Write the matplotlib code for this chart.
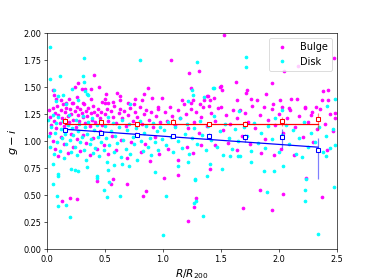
import numpy as np
import matplotlib
matplotlib.use('Agg')
import matplotlib.pyplot as plt

# bulge galaxies (R/R200, g-i)
bulge_x = [1.53, 2.48, 1.07, 2.17, 1.23, 1.31, 0.41, 2.05, 1.94, 1.63, 1.73, 1.72, 1.49, 1.51,
           0.27, 0.24, 0.38, 0.45, 0.33, 0.30, 0.05, 0.06, 0.08, 0.12, 0.19, 0.26, 0.87, 0.84,
           0.63, 0.50, 0.50, 0.76, 0.82, 0.91, 0.99, 1.17, 1.26, 1.36, 1.39, 1.44, 1.67, 1.64,
           1.81, 2.01, 2.03, 2.11, 2.23, 2.37, 2.43, 2.38, 2.43, 2.49, 2.49, 2.28,
           0.51, 0.61, 0.63, 0.31, 0.38, 0.17, 0.23, 0.48, 0.53, 0.57, 0.70, 0.75, 0.96, 1.24,
           1.32, 1.38, 1.41, 1.40, 1.50, 1.76, 1.87, 1.95, 2.09, 2.16, 2.23, 2.32, 1.24, 1.50, 1.89,
           0.57, 0.55, 0.69, 0.43, 1.01, 1.13, 0.86, 0.83, 0.13, 0.20, 0.26, 1.29, 1.27, 1.22,
           1.69, 1.84, 2.04, 1.94, 2.37, 2.24,
           0.02, 0.03, 0.04, 0.05, 0.06, 0.07, 0.08, 0.09, 0.10, 0.11, 0.12, 0.13, 0.14, 0.15,
           0.16, 0.17, 0.18, 0.19, 0.20, 0.21, 0.22, 0.23, 0.24, 0.25, 0.26, 0.27, 0.28, 0.29,
           0.30, 0.31, 0.32, 0.33, 0.34, 0.35, 0.36, 0.37, 0.38, 0.39, 0.40, 0.41, 0.42, 0.43,
           0.44, 0.46, 0.47, 0.48, 0.50, 0.52, 0.53, 0.55, 0.57, 0.58, 0.60, 0.62, 0.63, 0.65,
           0.67, 0.68, 0.70, 0.72, 0.74, 0.76, 0.78, 0.80, 0.82, 0.84, 0.86, 0.88, 0.90, 0.92,
           0.94, 0.96, 0.98,
           0.03, 0.05, 0.07, 0.10, 0.12, 0.15, 0.18, 0.21, 0.23, 0.26, 0.29, 0.31, 0.34, 0.37,
           0.40, 0.43, 0.46, 0.49, 0.53, 0.56, 0.60, 0.64, 0.69, 0.73, 0.77, 0.81, 0.85, 0.89,
           0.93, 0.97,
           1.02, 1.04, 1.06, 1.08, 1.11, 1.13, 1.15, 1.18, 1.20, 1.22, 1.24, 1.27, 1.29, 1.31,
           1.33, 1.35, 1.38, 1.42, 1.45, 1.48, 1.52, 1.55, 1.58, 1.61, 1.64, 1.68, 1.71, 1.74,
           1.77, 1.80, 1.84, 1.88, 1.91, 1.94, 1.97, 2.00, 2.04, 2.07, 2.10, 2.14, 2.18, 2.21,
           2.25, 2.29, 2.33, 2.36, 2.40, 2.44, 2.47,
           1.05, 1.13, 1.21, 1.26, 1.33, 1.41, 1.45, 1.56, 1.64, 1.75, 1.85, 1.96, 2.02, 2.13,
           2.30, 2.42]
bulge_y = [1.98, 1.77, 1.75, 1.70, 1.63, 1.65, 1.61, 1.65, 1.54, 1.55, 1.47, 1.45, 1.50, 1.47,
           1.54, 1.50, 1.48, 1.50, 1.48, 1.48, 1.47, 1.43, 1.39, 1.38, 1.39, 1.41, 1.49, 1.44,
           1.38, 1.39, 1.35, 1.39, 1.38, 1.40, 1.40, 1.38, 1.38, 1.38, 1.42, 1.40, 1.29, 1.38,
           1.38, 1.38, 1.32, 1.39, 1.31, 1.38, 1.38, 1.46, 1.47, 1.26, 1.21, 1.24,
           1.44, 1.45, 1.42, 1.35, 1.39, 1.35, 1.35, 1.36, 1.35, 1.36, 1.35, 1.34, 1.32, 1.35,
           1.34, 1.42, 1.38, 1.33, 1.32, 1.39, 1.32, 1.34, 1.31, 1.39, 1.32, 1.32, 1.49, 1.51, 1.44,
           0.65, 0.60, 0.60, 0.63, 0.66, 0.69, 0.54, 0.49, 0.45, 0.47, 0.46, 0.47, 0.39, 0.26,
           0.38, 0.55, 0.51, 0.36, 0.48, 0.66,
           1.29, 1.22, 1.15, 1.31, 1.19, 1.26, 1.12, 1.33, 1.24, 1.17, 1.29, 1.21, 1.34, 1.14,
           1.27, 1.31, 1.23, 1.18, 1.30, 1.25, 1.35, 1.20, 1.28, 1.13, 1.32, 1.24, 1.19, 1.30,
           1.26, 1.22, 1.34, 1.17, 1.28, 1.23, 1.31, 1.14, 1.26, 1.20, 1.33, 1.27, 1.18, 1.24,
           1.30, 1.21, 1.27, 1.15, 1.25, 1.30, 1.19, 1.28, 1.22, 1.33, 1.17, 1.26, 1.30, 1.21,
           1.28, 1.14, 1.24, 1.31, 1.19, 1.27, 1.22, 1.32, 1.16, 1.25, 1.29, 1.20, 1.27, 1.13,
           1.23, 1.30, 1.18,
           1.08, 1.00, 0.93, 0.86, 1.04, 0.97, 0.89, 1.07, 0.95, 1.02, 0.91, 1.06, 0.98, 0.87,
           1.03, 0.93, 1.09, 0.96, 0.88, 1.05, 0.92, 1.01, 0.84, 0.99, 1.07, 0.90, 0.97, 0.82,
           1.04, 0.88,
           1.27, 1.19, 1.32, 1.23, 1.15, 1.29, 1.21, 1.34, 1.25, 1.12, 1.30, 1.18, 1.27, 1.08,
           1.22, 1.32, 1.14, 1.26, 1.19, 1.31, 1.10, 1.24, 1.16, 1.29, 1.21, 1.05, 1.26, 1.18,
           1.33, 1.12, 1.24, 1.02, 1.20, 1.30, 1.15, 1.25, 1.08, 1.21, 1.29, 1.13, 1.23, 1.04,
           1.18, 1.27, 1.11, 1.30, 1.16, 1.25, 1.09,
           0.93, 0.83, 0.95, 0.89, 0.96, 0.74, 0.96, 0.98, 0.92, 0.97, 0.89, 0.87, 0.93, 0.87,
           0.99, 0.92]

# disk galaxies (R/R200, g-i)
disk_x = [0.03, 0.03, 0.11, 0.06, 0.08, 0.32, 0.80, 1.72, 1.72, 0.22, 0.32, 1.44, 1.36, 1.25,
          2.49, 0.10, 0.14, 0.27, 0.36, 0.72, 1.22, 1.66, 2.03, 0.17, 2.42, 1.30, 0.31, 0.33,
          0.35, 1.26, 1.43,
          0.05, 0.10, 0.09, 0.10, 0.17, 0.20, 0.43, 0.49, 0.52, 0.54, 0.63, 1.00, 1.03, 1.27,
          1.29, 1.35, 1.28, 1.38, 1.90, 2.23, 2.23, 2.24, 2.34, 2.48,
          0.01, 0.02, 0.03, 0.04, 0.05, 0.06, 0.07, 0.08, 0.09, 0.10, 0.11, 0.12, 0.13, 0.14,
          0.15, 0.16, 0.17, 0.18, 0.19, 0.20, 0.21, 0.22, 0.23, 0.24, 0.25, 0.26, 0.27, 0.28,
          0.29, 0.30, 0.31, 0.32, 0.33, 0.34, 0.35, 0.36, 0.37, 0.38, 0.39, 0.40, 0.41, 0.42,
          0.43, 0.44, 0.45, 0.46, 0.47, 0.48, 0.49, 0.50, 0.51, 0.52, 0.53, 0.54, 0.55, 0.57,
          0.58, 0.59, 0.61, 0.62, 0.64, 0.65, 0.66, 0.68, 0.69, 0.71, 0.72, 0.74, 0.75, 0.77,
          0.78, 0.80, 0.81, 0.83, 0.84, 0.86, 0.87, 0.89, 0.90, 0.92, 0.93, 0.95, 0.96, 0.98,
          0.99,
          0.05, 0.10, 0.21, 0.24, 0.27, 0.43, 0.53, 0.65, 0.71, 0.93, 0.35, 0.58,
          1.01, 1.03, 1.05, 1.07, 1.09, 1.11, 1.13, 1.15, 1.17, 1.19, 1.21, 1.23, 1.25, 1.27,
          1.30, 1.32, 1.34, 1.37, 1.39, 1.42, 1.44, 1.47, 1.49, 1.52, 1.54, 1.57, 1.60, 1.62,
          1.65, 1.67, 1.70, 1.73, 1.76, 1.79, 1.82, 1.85, 1.88, 1.91, 1.94, 1.97, 2.00, 2.03,
          2.06, 2.09, 2.12, 2.15, 2.18, 2.22, 2.25, 2.28, 2.31, 2.35, 2.38, 2.41, 2.44, 2.47,
          1.22, 1.28, 1.41, 1.51, 1.65, 1.76, 1.87, 1.96, 2.04, 2.41, 2.49, 1.58, 2.20, 1.13]
disk_y = [1.87, 1.58, 1.60, 1.47, 1.37, 1.77, 1.75, 1.78, 1.69, 1.48, 1.55, 1.49, 1.41, 1.47,
          1.39, 1.42, 1.43, 1.38, 1.43, 1.34, 1.37, 1.28, 1.29, 1.34, 1.33, 1.73, 1.60, 1.46,
          1.44, 1.43, 1.49,
          0.60, 0.68, 0.49, 0.40, 0.41, 0.30, 0.68, 0.55, 0.48, 0.62, 0.49, 0.13, 0.49, 0.43,
          0.45, 0.31, 0.64, 0.68, 0.53, 0.55, 0.45, 0.65, 0.14, 0.58,
          1.20, 1.05, 0.95, 1.13, 1.24, 0.88, 1.08, 1.17, 0.99, 1.22, 0.91, 1.11, 1.03, 1.19,
          0.84, 1.07, 0.97, 1.15, 1.24, 1.01, 0.90, 1.12, 1.06, 0.95, 1.20, 0.87, 1.09, 1.16,
          0.99, 1.04, 1.23, 0.92, 1.13, 0.83, 1.07, 1.18, 0.97, 1.02, 1.21, 0.89, 1.10, 0.94,
          1.15, 1.04, 0.86, 1.19, 0.99, 1.08, 0.92, 1.14, 1.03, 0.81, 1.22, 0.96, 1.09, 1.17,
          0.90, 1.05, 0.98, 1.13, 0.85, 1.20, 1.01, 0.93, 1.10, 1.16, 0.88, 1.04, 0.97, 1.12,
          0.83, 1.19, 1.00, 0.91, 1.08, 1.14, 0.95, 1.03, 0.87, 1.17, 0.99, 1.09, 0.92, 1.13,
          1.02,
          0.79, 0.70, 0.74, 0.73, 0.72, 0.66, 0.73, 0.79, 0.77, 0.71, 0.76, 0.78,
          1.10, 0.96, 1.18, 1.04, 0.90, 1.13, 1.00, 1.21, 0.94, 1.07, 1.16, 0.88, 1.03, 1.12,
          0.97, 1.19, 1.06, 0.92, 1.14, 1.01, 1.23, 0.95, 1.09, 0.87, 1.16, 1.03, 0.93, 1.11,
          1.00, 0.86, 1.13, 1.05, 0.91, 1.17, 0.98, 1.08, 0.94, 1.14, 1.02, 1.21, 0.90, 1.06,
          1.15, 0.97, 1.10, 0.88, 1.03, 1.18, 0.95, 1.08, 0.99, 1.13, 0.90, 1.05, 0.94, 1.11,
          0.81, 0.65, 0.79, 0.74, 0.86, 0.81, 0.72, 0.72, 0.77, 0.86, 0.96, 0.86, 0.85, 0.77]

# binned medians
bin_x = [0.16, 0.47, 0.78, 1.09, 1.40, 1.71, 2.03, 2.34]
bulge_med = [1.19, 1.175, 1.155, 1.18, 1.16, 1.16, 1.19, 1.205]
bulge_err_lo = [0.03, 0.02, 0.02, 0.03, 0.02, 0.025, 0.05, 0.10]
bulge_err_hi = [0.03, 0.02, 0.02, 0.03, 0.02, 0.025, 0.03, 0.055]
disk_med = [1.105, 1.075, 1.055, 1.05, 1.05, 1.04, 1.04, 0.92]
disk_err_lo = [0.02, 0.02, 0.02, 0.02, 0.03, 0.05, 0.10, 0.27]
disk_err_hi = [0.02, 0.02, 0.02, 0.02, 0.03, 0.03, 0.07, 0.11]

# linear fits (slope, intercept)
bulge_fit = (0.0, 1.16)
disk_fit = (-0.076, 1.122)

fig = plt.figure(figsize=(6.4, 4.8), dpi=58.4375)

plt.plot(bulge_x, bulge_y, '.', color='magenta', ms=7, label='Bulge')
plt.plot(disk_x, disk_y, '.', color='cyan', ms=7, label='Disk')

xf = np.array([bin_x[0], bin_x[-1]])
plt.plot(xf, bulge_fit[0] * xf + bulge_fit[1], '-', color='red', lw=1.5)
plt.plot(xf, disk_fit[0] * xf + disk_fit[1], '-', color='blue', lw=1.5)

plt.errorbar(bin_x, bulge_med, yerr=[bulge_err_lo, bulge_err_hi], fmt='s', ms=5,
             mfc='white', mec='red', mew=1.3, ecolor=(1, 0, 0, 0.5), elinewidth=1.5)
plt.errorbar(bin_x, disk_med, yerr=[disk_err_lo, disk_err_hi], fmt='s', ms=5,
             mfc='white', mec='blue', mew=1.3, ecolor=(0, 0, 1, 0.5), elinewidth=1.5)

plt.xlim(0, 2.5)
plt.ylim(0, 2)
plt.xlabel('$R/R_{200}$', fontsize=13)
plt.ylabel('$g-i$', fontsize=14)
plt.legend(loc='upper right', fontsize=12)

plt.savefig('out.png')
